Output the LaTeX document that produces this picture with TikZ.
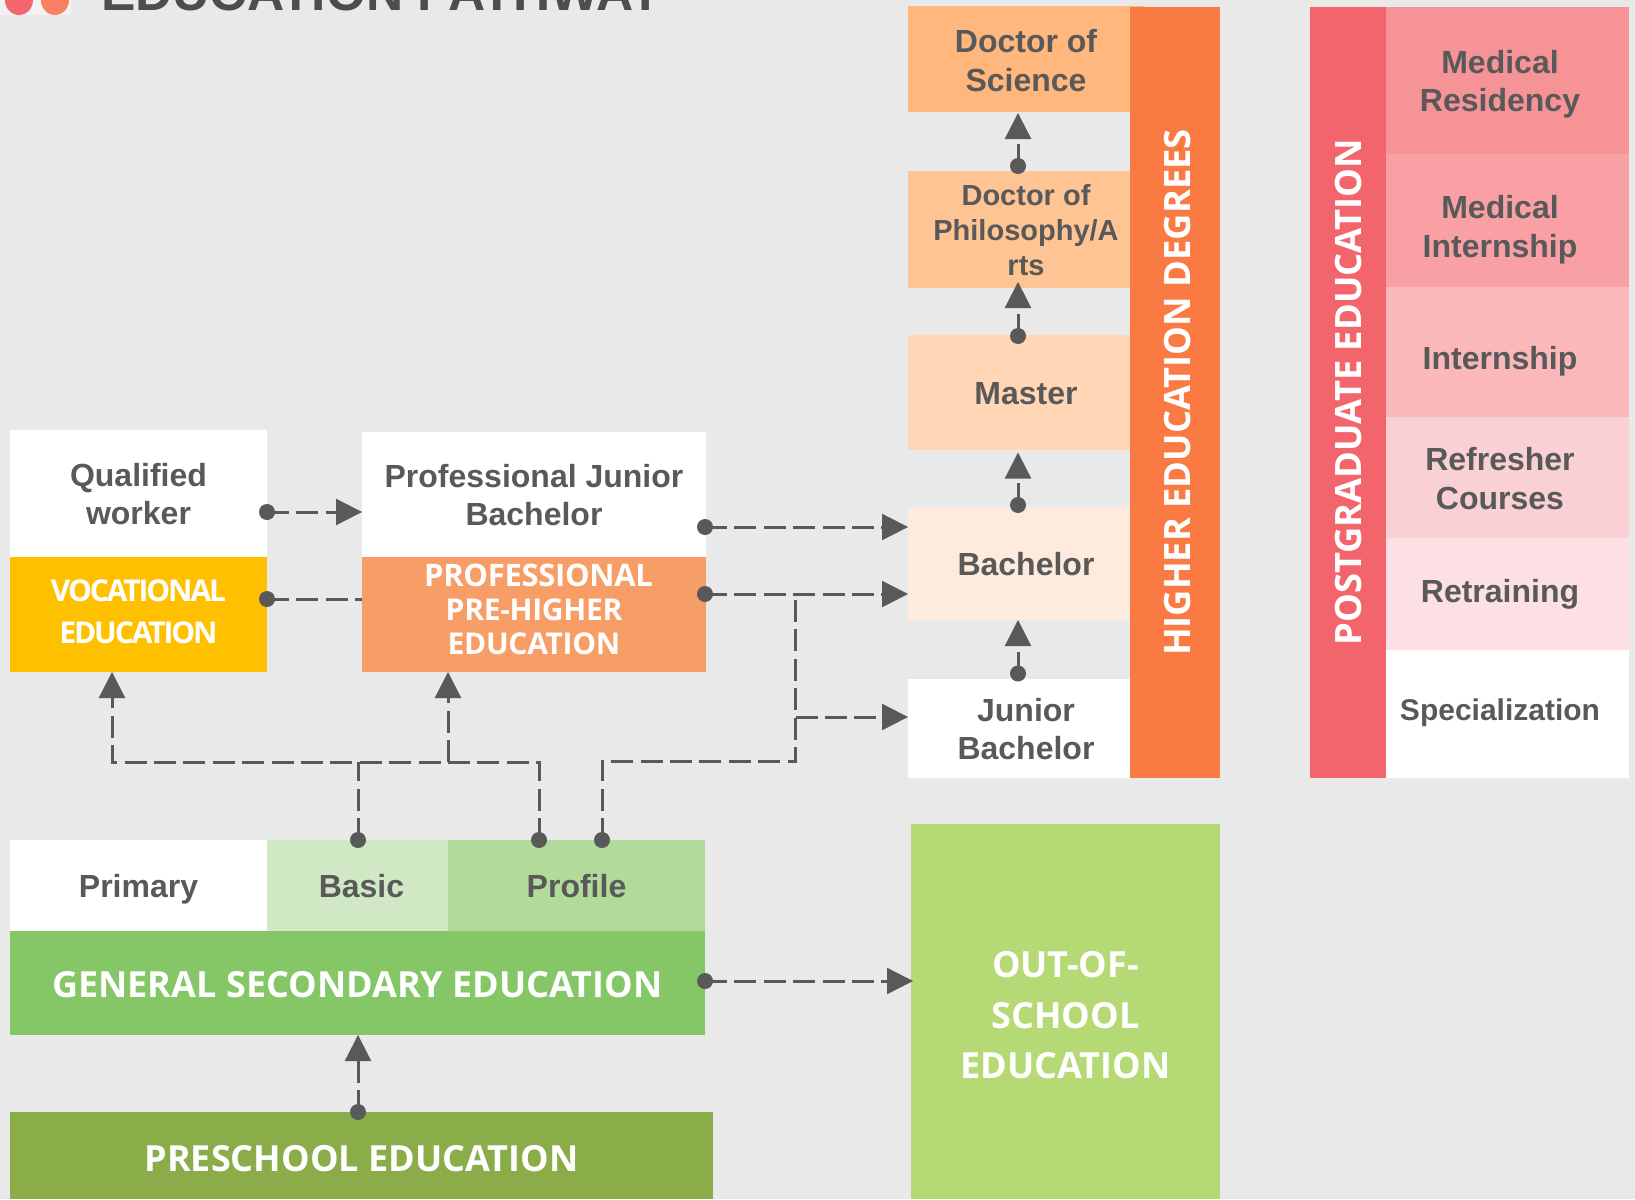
\documentclass[tikz,border=0pt]{standalone}
\usepackage{fontspec}
\usetikzlibrary{arrows.meta}
\setmainfont{Liberation Sans}
\newfontfamily\wfont{Open Sans}
\definecolor{bgc}{HTML}{E9E9E9}
\definecolor{ink}{HTML}{595959}
\definecolor{titlec}{HTML}{4D4D4D}
\definecolor{dotred}{HTML}{F4656D}
\definecolor{dotorange}{HTML}{FA8064}
\definecolor{cds}{HTML}{FFB77D}
\definecolor{cdp}{HTML}{FFC494}
\definecolor{cma}{HTML}{FFD6B6}
\definecolor{cba}{HTML}{FEEBDD}
\definecolor{che}{HTML}{F97A43}
\definecolor{cvo}{HTML}{FFC000}
\definecolor{cpr}{HTML}{F79E67}
\definecolor{cbs}{HTML}{D0E8C3}
\definecolor{cpf}{HTML}{B2DA9A}
\definecolor{cge}{HTML}{85C666}
\definecolor{cps}{HTML}{8AAD4A}
\definecolor{coo}{HTML}{B5D975}
\definecolor{cpg}{HTML}{F3656C}
\definecolor{cmr}{HTML}{F69396}
\definecolor{cmi}{HTML}{F8A0A4}
\definecolor{cin}{HTML}{FAB8BA}
\definecolor{crc}{HTML}{F9D0D3}
\definecolor{crt}{HTML}{FDE0E3}
\tikzset{
  box/.style={rectangle,draw=none,inner sep=0pt,outer sep=0pt,text=ink},
  dark/.style={font=\fontsize{32}{38.5}\selectfont\bfseries},
  light/.style={text=white,font=\fontsize{36}{50.8}\selectfont\wfont\bfseries},
  vert/.style={text=white,font=\fontsize{36.3}{44}\selectfont\wfont\bfseries},
  small/.style={text=white,font=\fontsize{30}{34}\selectfont\wfont\bfseries\addfontfeature{LetterSpace=-1}},
  dotn/.style={circle,fill=ink,draw=none,inner sep=0pt,minimum size=16pt,outer sep=0pt},
  dsh/.style={draw=ink,line width=3pt,dash pattern=on 22pt off 7.4pt},
  tip/.style={-{Triangle[width=26.6pt,length=26pt,line width=0pt]}}
}
\newcommand\bx[7]{\node[box,#6,minimum width={(#4-#2)*1pt},minimum height={(#5-#3)*1pt}] (#1) at ({(#2+#4)/2},{(#3+#5)/2}) {#7};}
\newcommand\tx[2][-4.5]{\raisebox{#1pt}[\height][\depth]{\begin{tabular}{@{}c@{}}#2\end{tabular}}}
\begin{document}
\begin{tikzpicture}[x=1pt,y=-1pt]
\useasboundingbox (0,0) rectangle (1635,1199);
\clip (0,0) rectangle (1635,1199);
\fill[bgc] (0,0) rectangle (1635,1199);
% title fragment
\fill[white!40!bgc] (0,0) rectangle (71,15);
\fill[dotred] (19,0) ellipse [x radius=14,y radius=15];
\fill[dotorange] (55,0) ellipse [x radius=14,y radius=15];
\node[anchor=base west,inner sep=0pt,text=titlec,font=\fontsize{51.5}{52}\selectfont\bfseries] (title) at (101,11) {EDUCATION PATHWAY};

% degrees
\bx{ds}{908}{6}{1144}{112}{fill=cds,dark}{\tx[-5.5]{Doctor of\\Science}}
\bx{dp}{908}{171}{1144}{288}{fill=cdp,dark,font=\fontsize{29}{35}\selectfont\bfseries}{\tx[-3.5]{Doctor of\\Philosophy/A\\rts}}
\bx{ma}{908}{335}{1144}{449.5}{fill=cma,dark}{\tx{Master}}
\bx{ba}{908}{507}{1144}{620}{fill=cba,dark}{\tx{Bachelor}}
\bx{jb}{908}{679}{1144}{778}{fill=white,dark}{\tx{Junior\\Bachelor}}
\node[box,fill=che,vert,minimum width=771pt,minimum height=90pt,rotate=90] (he) at (1175,392.5) {\raisebox{-2pt}[\height][\depth]{HIGHER EDUCATION DEGREES}};

% postgraduate
\bx{mr}{1371}{7}{1629}{153.5}{fill=cmr,dark}{\tx{Medical\\Residency}}
\bx{mi}{1371}{153.5}{1629}{287}{fill=cmi,dark}{\tx[-10]{Medical\\Internship}}
\bx{in}{1371}{287}{1629}{417}{fill=cin,dark}{\tx[-9.5]{Internship}}
\bx{rc}{1371}{417}{1629}{538}{fill=crc,dark}{\tx[-5]{Refresher\\Courses}}
\bx{rt}{1371}{538}{1629}{650}{fill=crt,dark}{\tx[-1]{Retraining}}
\bx{sp}{1371}{650}{1629}{778}{fill=white,dark,font=\fontsize{30}{36}\selectfont\bfseries}{\tx[1]{Specialization}}
\node[box,fill=cpg,vert,minimum width=771pt,minimum height=76pt,rotate=90] (pg) at (1348,392.5) {POSTGRADUATE EDUCATION};

% vocational and professional
\bx{qw}{10}{430}{267}{557}{fill=white,dark}{\tx{Qualified\\worker}}
\bx{vo}{10}{557}{267}{672}{fill=cvo,small,font=\fontsize{30}{41.7}\selectfont\wfont\bfseries\addfontfeature{LetterSpace=-7}}{\tx[0]{VOCATIONAL\\EDUCATION}}
\bx{pj}{362}{432}{706}{557}{fill=white,dark}{\tx{Professional Junior\\Bachelor}}
\bx{pp}{362}{557}{706}{672}{fill=cpr,small}{\tx[1]{\makebox[0pt]{\hspace{9pt}\fontsize{31}{34}\selectfont PROFESSIONAL}\\PRE-HIGHER\\EDUCATION}}

% general secondary
\bx{pri}{10}{840}{267}{931}{fill=white,dark}{\tx{Primary}}
\bx{bas}{267}{840}{448}{931}{fill=cbs,dark}{\tx{\hspace*{8pt}Basic}}
\bx{pro}{448}{840}{705}{931}{fill=cpf,dark}{\tx{Profile}}
\bx{gen}{10}{931}{705}{1035}{fill=cge,light}{\tx{GENERAL SECONDARY EDUCATION}}
\bx{pre}{10}{1112}{713}{1199}{fill=cps,light}{\tx[-6]{PRESCHOOL EDUCATION}}
\bx{oos}{911}{824}{1220}{1199}{fill=coo,light}{\tx[-6.5]{OUT-OF-\\SCHOOL\\EDUCATION}}

% dots
\node[dotn] (d1) at (267,512) {};
\node[dotn] (d2) at (267,599) {};
\node[dotn] (d3) at (705,527) {};
\node[dotn] (d4) at (705,594) {};
\node[dotn] (d5) at (358,840) {};
\node[dotn] (d6) at (539,840) {};
\node[dotn] (d7) at (602,840) {};
\node[dotn] (d8) at (705,981) {};
\node[dotn] (d9) at (358,1112) {};
\node[dotn] (u1) at (1018,166) {};
\node[dotn] (u2) at (1018,336) {};
\node[dotn] (u3) at (1018,505) {};
\node[dotn] (u4) at (1018,673.5) {};

% junctions
\coordinate (jl) at (112,762);
\coordinate (jm) at (448,762);
\coordinate (jb1) at (358,762);
\coordinate (jr) at (539,762);
\coordinate (k1) at (602,761);
\coordinate (k2) at (795.5,761);
\coordinate (k3) at (795.5,717);
\coordinate (t1) at (1018,113);
\coordinate (t2) at (1018,282);
\coordinate (t3) at (1018,452.5);
\coordinate (t4) at (913,981);

% connectors
\draw[dsh,tip] (d1.center) -- (pj.west |- d1.center);
\draw[dsh] (d2.center) -- (pp.west |- d2.center);
\draw[dsh,tip] (d3.center) -- (ba.west |- d3.center);
\draw[dsh,tip] (d4.center) -- (ba.west |- d4.center);
\draw[dsh] (d5.center) -- (jb1);
\draw[dsh,tip] (d6.center) -- (jr) -- (jl) -- (vo.south -| jl);
\draw[dsh,tip] (jm) -- (pp.south -| jm);
\draw[dsh] (d7.center) -- (k1) -- (k2) -- (k2 |- d4.center);
\draw[dsh,tip] (k3) -- (jb.west |- k3);
\draw[dsh,tip] (d8.center) -- (t4);
\draw[dsh,tip] (d9.center) -- (gen.south -| d9.center);
\draw[dsh,tip] (u1.center) -- (t1);
\draw[dsh,tip] (u2.center) -- (t2);
\draw[dsh,tip] (u3.center) -- (t3);
\draw[dsh,tip] (u4.center) -- (ba.south -| u4.center);
\end{tikzpicture}
\end{document}
